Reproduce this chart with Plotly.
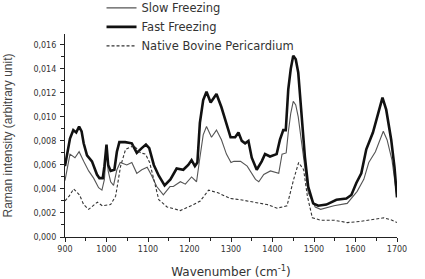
import plotly.graph_objects as go

# Fast freezing (thick)
fast_x = [900, 905, 912, 920, 927, 934, 940, 945, 953, 965, 977, 983, 991, 995, 1000, 1004, 1010, 1019, 1025,
          1031, 1045, 1061, 1073, 1085, 1095, 1103, 1114, 1126, 1140, 1154, 1169, 1185, 1197, 1205, 1213,
          1219, 1225, 1233, 1241, 1251, 1265, 1277, 1289, 1299, 1310, 1318, 1326, 1334, 1342, 1350, 1362,
          1374, 1382, 1394, 1410, 1418, 1426, 1432, 1438, 1444, 1450, 1456, 1462, 1470, 1478, 1486, 1498,
          1510, 1530, 1554, 1578, 1590, 1602, 1614, 1626, 1642, 1654, 1665, 1674, 1686, 1694, 1700]
fast_y = [0.0059, 0.0070, 0.0082, 0.0089, 0.0087, 0.0092, 0.0088, 0.0078, 0.0068, 0.0063, 0.0052, 0.0049, 0.0049,
          0.0059, 0.0077, 0.0060, 0.0055, 0.0056, 0.0071, 0.0079, 0.0079, 0.0078, 0.0070, 0.0074, 0.0077,
          0.0074, 0.0060, 0.0051, 0.0043, 0.0048, 0.0057, 0.0056, 0.0060, 0.0064, 0.0059, 0.0062, 0.0095,
          0.0114, 0.0121, 0.0112, 0.0119, 0.0108, 0.0094, 0.0083, 0.0083, 0.0087, 0.0080, 0.0078, 0.0080,
          0.0066, 0.0056, 0.0063, 0.0069, 0.0067, 0.0069, 0.0081, 0.0089, 0.0089, 0.0123, 0.0140, 0.0151,
          0.0148, 0.0137, 0.0103, 0.0067, 0.0042, 0.0028, 0.0026, 0.0027, 0.0031, 0.0032, 0.0035, 0.0045,
          0.0053, 0.0073, 0.0087, 0.0102, 0.0116, 0.0106, 0.0081, 0.0058, 0.0033]

# Slow freezing (thin)
slow_x = [900, 905, 912, 924, 934, 945, 957, 969, 981, 989, 995, 1000, 1004, 1010, 1017, 1025, 1033, 1049,
          1061, 1073, 1085, 1098, 1109, 1121, 1137, 1153, 1161, 1178, 1190, 1205, 1217, 1225, 1233, 1241,
          1253, 1265, 1277, 1289, 1300, 1307, 1323, 1339, 1359, 1367, 1379, 1395, 1415, 1423, 1433, 1438,
          1444, 1450, 1456, 1462, 1470, 1478, 1486, 1503, 1516, 1548, 1580, 1604, 1620, 1632, 1648, 1667,
          1676, 1688, 1700]
slow_y = [0.0047, 0.0056, 0.0069, 0.0066, 0.0071, 0.0063, 0.0055, 0.0049, 0.0041, 0.0039, 0.0048, 0.0073,
          0.0055, 0.0046, 0.0043, 0.0056, 0.0062, 0.0060, 0.0062, 0.0053, 0.0056, 0.0058, 0.0051, 0.0042,
          0.0035, 0.0042, 0.0042, 0.0046, 0.0044, 0.0050, 0.0046, 0.0066, 0.0085, 0.0092, 0.0083, 0.0089,
          0.0081, 0.0069, 0.0062, 0.0063, 0.0063, 0.0059, 0.0048, 0.0046, 0.0052, 0.0055, 0.0053, 0.0069,
          0.0070, 0.0087, 0.0103, 0.0113, 0.0110, 0.0100, 0.0078, 0.0056, 0.0037, 0.0025, 0.0023, 0.0026,
          0.0028, 0.0038, 0.0048, 0.0062, 0.0071, 0.0088, 0.0081, 0.0064, 0.0033]

# Native bovine pericardium (dashed)
native_x = [900, 910, 921, 935, 945, 957, 978, 990, 1010, 1022, 1034, 1046, 1066, 1082, 1094, 1104, 1114,
            1126, 1146, 1178, 1210, 1226, 1246, 1267, 1299, 1323, 1355, 1387, 1411, 1435, 1451, 1463, 1475,
            1484, 1496, 1516, 1548, 1580, 1612, 1644, 1668, 1688, 1700]
native_y = [0.0030, 0.0034, 0.0040, 0.0035, 0.0027, 0.0023, 0.0029, 0.0026, 0.0027, 0.0034, 0.0059, 0.0073,
            0.0076, 0.0070, 0.0069, 0.0062, 0.0048, 0.0031, 0.0025, 0.0022, 0.0027, 0.0030, 0.0039, 0.0037,
            0.0032, 0.0031, 0.0029, 0.0027, 0.0024, 0.0026, 0.0048, 0.0062, 0.0056, 0.0034, 0.0016, 0.0014,
            0.0014, 0.0012, 0.0013, 0.0015, 0.0016, 0.0014, 0.0012]

x_ticks = [900, 1000, 1100, 1200, 1300, 1400, 1500, 1600, 1700]
y_ticks = [0.000, 0.002, 0.004, 0.006, 0.008, 0.010, 0.012, 0.014, 0.016]

fig = go.Figure()
fig.add_trace(go.Scatter(x=slow_x, y=slow_y, mode="lines", name="Slow Freezing",
                         line=dict(color="#555555", width=1.1)))
fig.add_trace(go.Scatter(x=fast_x, y=fast_y, mode="lines", name="Fast Freezing",
                         line=dict(color="#111111", width=2.6)))
fig.add_trace(go.Scatter(x=native_x, y=native_y, mode="lines", name="Native Bovine Pericardium",
                         line=dict(color="#333333", width=1.1, dash="3px,2px")))

tickfont = dict(family="DejaVu Sans", size=8, color="#333333")
fig.update_layout(
    width=425, height=279,
    margin=dict(l=65, r=28, t=34, b=42, autoexpand=False),
    paper_bgcolor="white", plot_bgcolor="white",
    separators=", ",
    showlegend=True,
    legend=dict(x=0.11, y=1.2, xanchor="left", yanchor="top",
                font=dict(family="DejaVu Sans", size=11.5, color="#333333"),
                bgcolor="rgba(0,0,0,0)", itemwidth=30, tracegroupgap=0),
    xaxis=dict(range=[900, 1700], tickvals=x_ticks, ticks="outside", ticklen=4, tickwidth=1,
               tickcolor="#222", showline=True, linecolor="#222", linewidth=1.2, showgrid=False,
               zeroline=False, tickfont=tickfont,
               minor=dict(dtick=50, ticks="outside", ticklen=2.5, tickcolor="#222", showgrid=False),
               title=dict(text="Wavenumber (cm<sup>-1</sup>)", standoff=16,
                          font=dict(family="DejaVu Sans", size=12, color="#333333"))),
    yaxis=dict(range=[0, 0.0169], tickvals=y_ticks, tickformat=".3f", ticks="outside", ticklen=4,
               tickwidth=1, tickcolor="#222", showline=True, linecolor="#222", linewidth=1.2,
               showgrid=False, zeroline=False, tickfont=tickfont, ticklabelstandoff=2,
               minor=dict(dtick=0.001, ticks="outside", ticklen=2.5, tickcolor="#222", showgrid=False),
               title=dict(text="Raman intensity (arbitrary unit)", standoff=18,
                          font=dict(family="Liberation Sans", size=12, color="#444444"))),
)
fig.write_html("out.html")
